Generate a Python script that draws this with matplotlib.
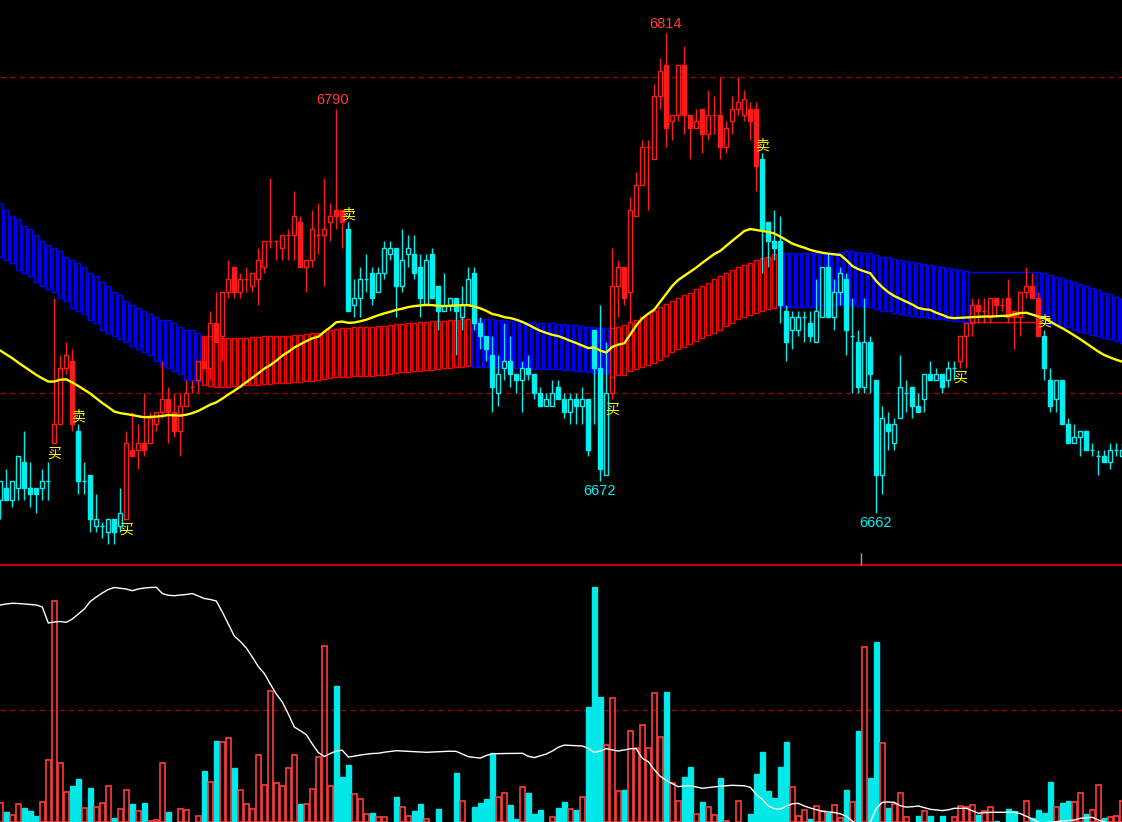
import matplotlib
matplotlib.use('Agg')
import matplotlib.pyplot as plt
from matplotlib.patches import Rectangle
import numpy as np

plt.rcParams['font.family'] = ['Noto Sans CJK SC', 'DejaVu Sans']

# ---- price bars (one per period) ----
opens = [6666, 6670, 6666, 6670, 6678, 6670, 6670, 6670, 6672, 6684,
         6690, 6708, 6710, 6688, 6672, 6674, 6658, 6658, 6656, 6660,
         6658, 6660, 6682, 6682, 6684, 6684, 6690, 6694, 6698, 6694,
         6688, 6696, 6702, 6704, 6710, 6708, 6722, 6718, 6732, 6740,
         6732, 6736, 6734, 6736, 6740, 6748, 6748, 6746, 6750, 6750,
         6754, 6740, 6742, 6750, 6750, 6754, 6758, 6758, 6752, 6728,
         6730, 6736, 6738, 6732, 6738, 6744, 6746, 6734, 6744, 6744,
         6740, 6728, 6744, 6734, 6726, 6728, 6730, 6724, 6728, 6738,
         6722, 6718, 6712, 6700, 6708, 6710, 6706, 6704, 6708, 6706,
         6700, 6696, 6696, 6702, 6698, 6694, 6698, 6696, 6698, 6720,
         6708, 6674, 6700, 6734, 6740, 6732, 6756, 6766, 6778, 6774,
         6794, 6804, 6786, 6788, 6804, 6788, 6784, 6790, 6782, 6788,
         6788, 6778, 6786, 6790, 6788, 6790, 6790, 6774, 6754, 6748,
         6748, 6726, 6720, 6720, 6724, 6722, 6716, 6724, 6740, 6724,
         6732, 6736, 6718, 6716, 6702, 6716, 6704, 6674, 6690, 6684,
         6692, 6700, 6702, 6696, 6698, 6706, 6704, 6706, 6704, 6708,
         6710, 6718, 6722, 6728, 6726, 6724, 6730, 6728, 6730, 6726,
         6724, 6732, 6734, 6730, 6718, 6704, 6698, 6704, 6690, 6684,
         6686, 6688, 6682, 6680, 6680, 6678, 6682, 6680]
highs = [6672, 6676, 6672, 6680, 6688, 6678, 6670, 6676, 6678, 6730,
         6712, 6716, 6714, 6690, 6678, 6674, 6668, 6659, 6660, 6660,
         6670, 6688, 6694, 6690, 6700, 6694, 6694, 6710, 6702, 6700,
         6700, 6704, 6704, 6710, 6718, 6726, 6732, 6732, 6742, 6740,
         6738, 6740, 6738, 6746, 6748, 6768, 6748, 6750, 6752, 6764,
         6756, 6742, 6758, 6760, 6768, 6760, 6790, 6758, 6754, 6736,
         6740, 6744, 6740, 6740, 6748, 6748, 6746, 6752, 6750, 6750,
         6744, 6744, 6746, 6734, 6738, 6730, 6730, 6734, 6740, 6740,
         6724, 6718, 6718, 6712, 6722, 6718, 6706, 6710, 6712, 6706,
         6702, 6700, 6704, 6704, 6700, 6700, 6700, 6702, 6698, 6720,
         6728, 6716, 6746, 6742, 6740, 6762, 6770, 6780, 6780, 6798,
         6806, 6814, 6788, 6804, 6810, 6788, 6790, 6790, 6796, 6794,
         6800, 6786, 6794, 6800, 6796, 6792, 6792, 6776, 6754, 6758,
         6756, 6728, 6726, 6726, 6726, 6726, 6736, 6740, 6744, 6736,
         6740, 6738, 6730, 6720, 6730, 6718, 6704, 6696, 6694, 6692,
         6712, 6704, 6702, 6700, 6706, 6710, 6708, 6706, 6710, 6710,
         6718, 6722, 6730, 6730, 6730, 6730, 6730, 6730, 6736, 6726,
         6732, 6740, 6738, 6732, 6720, 6708, 6704, 6704, 6692, 6690,
         6688, 6688, 6684, 6682, 6682, 6684, 6684, 6684]
lows = [6660, 6666, 6664, 6666, 6666, 6664, 6662, 6666, 6666, 6684,
        6690, 6706, 6688, 6668, 6668, 6656, 6656, 6654, 6652, 6652,
        6656, 6660, 6680, 6676, 6680, 6684, 6688, 6692, 6684, 6686,
        6680, 6696, 6700, 6700, 6708, 6704, 6716, 6710, 6730, 6730,
        6730, 6732, 6732, 6728, 6738, 6746, 6742, 6742, 6742, 6742,
        6740, 6732, 6740, 6744, 6734, 6748, 6752, 6746, 6726, 6724,
        6724, 6732, 6728, 6732, 6736, 6742, 6724, 6732, 6740, 6736,
        6724, 6728, 6730, 6720, 6726, 6726, 6712, 6720, 6728, 6720,
        6714, 6710, 6694, 6696, 6704, 6702, 6700, 6694, 6704, 6698,
        6696, 6696, 6696, 6698, 6692, 6690, 6690, 6690, 6680, 6690,
        6672, 6674, 6698, 6724, 6728, 6722, 6756, 6766, 6758, 6774,
        6790, 6778, 6780, 6786, 6782, 6774, 6784, 6776, 6780, 6782,
        6774, 6776, 6782, 6788, 6786, 6780, 6764, 6738, 6740, 6742,
        6722, 6710, 6714, 6718, 6716, 6716, 6716, 6724, 6724, 6720,
        6728, 6712, 6700, 6700, 6700, 6700, 6662, 6668, 6682, 6682,
        6692, 6694, 6692, 6694, 6694, 6704, 6704, 6700, 6702, 6704,
        6708, 6708, 6718, 6722, 6722, 6722, 6724, 6726, 6722, 6714,
        6718, 6730, 6730, 6718, 6704, 6694, 6694, 6690, 6684, 6684,
        6680, 6682, 6680, 6674, 6678, 6676, 6680, 6680]
closes = [6672, 6666, 6672, 6680, 6670, 6668, 6668, 6672, 6672, 6690,
          6708, 6712, 6690, 6672, 6672, 6660, 6660, 6658, 6660, 6656,
          6662, 6684, 6680, 6684, 6682, 6692, 6694, 6698, 6694, 6688,
          6696, 6700, 6702, 6710, 6708, 6722, 6716, 6732, 6736, 6732,
          6736, 6736, 6738, 6742, 6748, 6748, 6748, 6750, 6750, 6756,
          6740, 6742, 6752, 6750, 6752, 6756, 6756, 6754, 6726, 6730,
          6736, 6736, 6730, 6738, 6746, 6746, 6734, 6742, 6746, 6738,
          6730, 6742, 6730, 6726, 6728, 6730, 6726, 6728, 6736, 6722,
          6718, 6714, 6702, 6706, 6710, 6706, 6704, 6708, 6706, 6700,
          6696, 6698, 6700, 6698, 6694, 6698, 6696, 6698, 6682, 6708,
          6676, 6700, 6734, 6740, 6730, 6758, 6766, 6778, 6778, 6794,
          6802, 6784, 6788, 6804, 6788, 6784, 6786, 6782, 6788, 6788,
          6778, 6784, 6790, 6792, 6793, 6786, 6772, 6752, 6748, 6746,
          6728, 6716, 6724, 6724, 6724, 6718, 6726, 6740, 6724, 6732,
          6738, 6720, 6718, 6702, 6716, 6706, 6674, 6692, 6688, 6690,
          6702, 6700, 6696, 6694, 6706, 6704, 6706, 6702, 6708, 6708,
          6718, 6722, 6728, 6726, 6726, 6730, 6728, 6728, 6724, 6724,
          6732, 6734, 6730, 6718, 6708, 6696, 6704, 6690, 6684, 6686,
          6688, 6682, 6682, 6680, 6678, 6682, 6682, 6682]
# trend colour of the candles: c = cyan, r = red (run lengths)
candle_runs = [('c', 9), ('r', 4), ('c', 8), ('r', 37), ('c', 44),
               ('r', 25), ('c', 33), ('r', 14), ('c', 14)]

# ---- band (upper / lower edge) ----
band_top = [6760, 6758, 6756, 6755, 6753, 6752, 6750, 6748, 6747, 6746,
            6745, 6743, 6742, 6741, 6740, 6738, 6737, 6735, 6734, 6732,
            6731, 6729, 6728, 6727, 6726, 6725, 6724, 6723, 6723, 6722,
            6721, 6720, 6720, 6719,
            6718, 6718, 6717.5, 6717.5, 6717.5, 6717.5, 6717.5, 6717.5,
            6717.7, 6717.8, 6717.9, 6718, 6718, 6718.1, 6718.1, 6718.3,
            6718.5, 6718.7, 6718.9, 6719, 6719.4, 6719.8, 6720.2, 6720.5,
            6720.7, 6720.8, 6720.8, 6720.9, 6720.9, 6721.1, 6721.3, 6721.5,
            6721.7, 6721.9, 6722.1, 6722.2, 6722.4, 6722.5, 6722.7, 6722.8,
            6722.9, 6723, 6723.1, 6723.3, 6723.4,
            6723.6, 6723.5, 6723.4, 6723.3, 6723.2, 6723.0, 6722.9, 6722.8,
            6722.6, 6722.5, 6722.3, 6722.2, 6722.1, 6722.0, 6721.9, 6721.8,
            6721.6, 6721.4, 6721.2, 6721.0, 6720.8, 6720.6, 6720.5,
            6720.6, 6721.0, 6721.5, 6722.6, 6723.1, 6724.2, 6725.0, 6726.1,
            6727.1, 6728.2, 6729.2, 6730.0, 6731.0, 6731.8, 6732.8, 6734.0,
            6734.9, 6736.0, 6737.1, 6737.9, 6739.0, 6739.8, 6740.5,
            6741.1, 6742.1, 6742.6, 6743.2, 6743.9,
            6744.2, 6744.4, 6744.4, 6744.4, 6744.4, 6744.2, 6744.2, 6744.0,
            6744.4, 6744.4, 6744.6, 6744.9, 6744.8, 6744.5, 6744.4, 6744.2,
            6743.7, 6743.2, 6742.9, 6742.4, 6742.1, 6741.9, 6741.4, 6741.1,
            6740.9, 6740.5,
            6740.2, 6739.8, 6739.5, 6739.2, 6739.0, 6738.7,
            6738.4, 6738.4, 6738.4, 6738.4, 6738.4, 6738.4, 6738.4, 6738.4,
            6738.4, 6738.4, 6738.4,
            6738.2, 6737.9, 6737.4, 6736.8, 6736.3, 6735.8, 6735.0, 6734.5,
            6734.0, 6733.2, 6732.6, 6731.8, 6731.3, 6730.5, 6729.7]
band_bot = [6743, 6742, 6741, 6739, 6738, 6737, 6735, 6734, 6733, 6732,
            6730, 6729, 6727, 6726, 6725, 6723, 6722, 6720, 6719, 6718,
            6717, 6716, 6715, 6714, 6713, 6712, 6710, 6709, 6708, 6707,
            6706, 6704, 6704, 6703.5,
            6702.5, 6702.2, 6702.0, 6702.0, 6702.0, 6702.1, 6702.2, 6702.4,
            6702.5, 6702.6, 6702.7, 6702.8, 6703.0, 6703.1, 6703.2, 6703.4,
            6703.6, 6703.8, 6703.9, 6704.1, 6704.4, 6704.6, 6704.9, 6705.1,
            6705.2, 6705.3, 6705.3, 6705.4, 6705.4, 6705.6, 6705.8, 6706.1,
            6706.3, 6706.6, 6706.7, 6706.9, 6707.1, 6707.2, 6707.4, 6707.6,
            6707.8, 6707.9, 6708.1, 6708.3, 6708.5,
            6708.3, 6708.2, 6708.2, 6708.1, 6708.0, 6708.0, 6707.9, 6707.8,
            6707.8, 6707.7, 6707.7, 6707.6, 6707.6, 6707.5, 6707.5, 6707.4,
            6707.2, 6707.0, 6706.8, 6706.6, 6706.4, 6706.3, 6706.2,
            6705.2, 6705.7, 6705.7, 6706.8, 6707.5, 6708.3, 6708.9, 6709.6,
            6710.4, 6711.7, 6713.1, 6713.8, 6714.7, 6715.4, 6716.3, 6717.3,
            6718.4, 6719.1, 6720.0, 6721.2, 6722.3, 6723.3, 6724.2,
            6724.7, 6725.4, 6726.1, 6726.5, 6726.8,
            6727.3, 6727.3, 6727.3, 6727.3, 6727.3, 6727.3, 6727.5, 6727.7,
            6727.9, 6727.9, 6727.9, 6728.1, 6727.9, 6727.5, 6727.3, 6727.1,
            6726.5, 6726.1, 6725.8, 6725.2, 6724.9, 6724.7, 6724.4, 6724.2,
            6724.0, 6723.7,
            6723.5, 6723.3, 6723.1, 6722.9, 6722.7, 6722.6,
            6722.6, 6722.6, 6722.6, 6722.6, 6722.6, 6722.6, 6722.6, 6722.6,
            6722.6, 6722.6, 6722.6,
            6722.4, 6722.1, 6721.9, 6721.5, 6721.0, 6720.8, 6720.0, 6719.4,
            6718.9, 6718.4, 6718.0, 6717.5, 6717.0, 6716.6, 6715.9]
# b = falling (blue), r = rising (red), f = flat
band_runs = [('b', 34), ('r', 45), ('b', 23), ('r', 28), ('b', 32),
             ('f', 11), ('b', 15)]

# ---- yellow average ----
ma = [6713.4, 6712.2, 6711.0, 6709.6, 6708.3, 6707.0, 6705.7, 6704.6, 6703.6, 6703.6,
      6704.2, 6704.3, 6703.3, 6702.2, 6701.0, 6699.8, 6698.3, 6696.8, 6695.5, 6694.1,
      6693.6, 6693.3, 6693.0, 6692.6, 6692.3, 6692.4, 6692.5, 6692.7, 6693.0, 6692.9,
      6692.8, 6693.1, 6693.6, 6694.3, 6695.3, 6696.3, 6697.0, 6698.2, 6699.5, 6700.7,
      6702.0, 6703.4, 6704.8, 6706.2, 6707.7, 6708.8, 6710.2, 6711.8, 6713.0, 6714.4,
      6715.4, 6716.4, 6717.3, 6717.8, 6719.4, 6720.8, 6722.4, 6722.6, 6722.2, 6722.3,
      6722.7, 6723.2, 6723.9, 6724.6, 6725.2, 6725.7, 6726.3, 6726.7, 6727.2, 6727.5,
      6727.7, 6727.9, 6727.8, 6727.6, 6727.5, 6727.6, 6727.7, 6727.8, 6727.8, 6727.4,
      6726.8, 6726.0, 6725.0, 6724.6, 6724.0, 6723.7, 6723.2, 6722.5, 6721.6, 6720.6,
      6719.7, 6719.0, 6718.4, 6718.0, 6717.3, 6716.5, 6715.8, 6715.0, 6714.2, 6714.4,
      6713.4, 6712.8, 6714.6, 6715.3, 6715.7, 6718.5, 6721.4, 6723.6, 6725.1, 6726.4,
      6728.9, 6731.4, 6733.9, 6735.8, 6737.1, 6738.4, 6739.7, 6741.2, 6742.6, 6744.0,
      6745.0, 6746.6, 6748.2, 6749.7, 6751.3, 6751.9, 6751.6, 6751.3, 6751.0, 6750.5,
      6749.5, 6748.4, 6747.3, 6746.6, 6746.0, 6745.3, 6744.8, 6744.4, 6744.1, 6743.9,
      6743.7, 6742.1, 6740.2, 6739.2, 6738.5, 6737.9, 6735.4, 6733.5, 6731.9, 6730.7,
      6729.8, 6728.9, 6728.0, 6726.9, 6726.5, 6726.3, 6725.4, 6724.7, 6723.9, 6723.7,
      6723.8, 6723.9, 6724.0, 6724.1, 6724.2, 6724.2, 6724.3, 6724.4, 6724.4, 6724.9,
      6725.3, 6725.4, 6724.8, 6724.2, 6723.7, 6722.6, 6721.5, 6720.5, 6719.4, 6718.2,
      6717.0, 6715.7, 6714.4, 6713.1, 6712.0, 6711.2, 6710.5, 6709.9]

# ---- lower panel: volume and white line (panel units) ----
vol = [18.7, 9.7, 6.7, 17.7, 14, 11, 6, 19.7, 61.7, 220.7,
       58.7, 29.7, 36, 43, 13.7, 34, 14.7, 18.7, 35.7, 4,
       12.7, 31.7, 17.7, 10.7, 18.7, 0.7, 1.7, 58.7, 9.7, 0,
       12.7, 11.7, 0, 5.7, 51, 40, 81, 79.7, 83.7, 54,
       31.7, 17.7, 12.7, 66.7, 36.7, 130.7, 38.7, 35.7, 53.7, 66.7,
       17.7, 17.7, 32.7, 64.7, 175.7, 35.7, 136, 45, 57, 27.7,
       22.7, 7.7, 9, 4.7, 4.7, 0, 25, 14.7, 5.7, 11,
       18, 2.7, 0, 13, 0, 0, 49, 20.7, 0, 15,
       19, 23, 69, 24.7, 28.7, 17, 3, 34.7, 29, 8,
       12, 0, 4.7, 14, 20, 12.7, 12, 24.7, 115, 235,
       125, 76.7, 123.7, 30.7, 32, 90.7, 73.7, 96.7, 73.7, 128.7,
       84.7, 130, 38.7, 20.7, 45, 55, 7.7, 20, 14.7, 6.7,
       44, 0.7, 0, 20.7, 0, 8, 48, 70, 31, 24,
       55, 80, 34.7, 5.7, 11.7, 3, 15.7, 10.7, 8.7, 16.7,
       3.7, 32, 19.7, 90.7, 174.7, 44, 180, 78.7, 14, 17.7,
       28.7, 4.7, 0, 6, 10.7, 6, 0, 6, 0, 4.7,
       15.7, 14.7, 16.7, 6.7, 10.7, 14.7, 1, 0, 13, 11,
       0, 20.7, 3.7, 12, 9, 40, 14.7, 18.7, 21, 19.7,
       28.7, 8, 11.7, 36.7, 4, 4.7, 5.7, 20.7]
oi = [217, 218, 218.7, 218.5, 218, 217.5, 217, 215, 199, 200,
      200.5, 199.7, 203, 208, 213, 220.5, 225, 229, 232.5, 234.5,
      233.7, 233, 231.3, 233, 234, 234.5, 234.7, 228.5, 226.7, 226.3,
      227, 227.5, 228.5, 226, 223.5, 222.5, 221, 210, 198, 186,
      180.5, 174, 165, 155.5, 148.5, 138, 128, 120, 108, 95,
      91.3, 87.3, 78, 69.5, 65.5, 68.5, 71, 71.8, 65, 65.8,
      67, 67.7, 68.5, 68.7, 69.8, 70.6, 71.3, 71, 70.6, 70.3,
      70, 69.7, 70, 70.3, 70.6, 70.8, 70.6, 68, 65.3, 64.6,
      63.9, 66.5, 68.2, 68.4, 68.5, 68.6, 68.7, 68.7, 65.7, 64.4,
      66.2, 68, 71, 74.7, 76.9, 76.6, 76.3, 76, 73.7, 69.5,
      71, 73.4, 72, 71, 72, 73.3, 73.2, 63.7, 60.3, 52.3,
      45.7, 41.7, 38.3, 35.3, 36.1, 36.3, 35, 33.7, 34.4, 35.1,
      35.8, 36.3, 36.7, 36.5, 36.2, 34.7, 27.5, 22.6, 16, 13.3,
      12.7, 15.9, 18.2, 18.7, 16, 14, 12.3, 10.6, 10, 9.5,
      8.2, 5.7, 1, -3, -5, 0, 13.5, 19.7, 20, 19.6,
      16.3, 14.9, 15.3, 16, 14.4, 12.7, 12, 11.4, 12.2, 13.7,
      13.7, 13.7, 11.2, 8.8, 9.3, 9.7, 9.7, 9.7, 9.7, 9.7,
      8.4, 5.8, 3, 0, -3, -4, -4, -3, -1, 2,
      3.7, 4.3, 4.7, 2, 0, -2, -3, -3]

buy_idx = [9, 21, 102, 160]
sell_idx = [13, 58, 127, 174]
high_marks = [(56, '6790', -4), (111, '6814', -1)]
low_marks = [(100, '6672', -1), (146, '6662', -1)]
grid_prices = [6800, 6700]
vol_grid = 112

RED = '#ff1a1a'
CYAN = '#00f0f0'
BLUE = '#0000ff'
DASH = '#9a0000'


def expand(runs):
    out = []
    for k, cnt in runs:
        out += [k] * cnt
    return out


n = len(closes)
x = np.arange(n)
ccol = expand(candle_runs)
bcol = expand(band_runs)

fig = plt.figure(figsize=(11.22, 8.22), dpi=100, facecolor='black')
ax = fig.add_axes([0, 257 / 822, 1, 565 / 822], facecolor='black')
axv = fig.add_axes([0, 0, 1, 257 / 822], facecolor='black')
for a in (ax, axv):
    a.set_xlim(-0.05, 186.95)
    a.set_xticks([])
    a.set_yticks([])
    for s in a.spines.values():
        s.set_visible(False)
ax.set_ylim(6645.5, 6824.45)
axv.set_ylim(0, 257)

# grid lines
for g in grid_prices:
    ax.axhline(g, color=DASH, lw=1, ls=(0, (4, 3)), zorder=1)
axv.axhline(vol_grid, color=DASH, lw=1, ls=(0, (4, 3)), zorder=1)

# band
bw = 0.68
for i in range(n):
    t, b = band_top[i], band_bot[i]
    if bcol[i] == 'f':
        ax.hlines(t, i - 0.5, i + 0.5, color=BLUE, lw=1, zorder=2)
        ax.hlines(b, i - 0.5, i + 0.5, color='#ff0000', lw=1, zorder=2)
        continue
    ec = BLUE if bcol[i] == 'b' else '#ff0000'
    ax.add_patch(Rectangle((i - bw / 2, b), bw, t - b, fill=False,
                           edgecolor=ec, lw=1, zorder=2))

# candles
cw = 0.72
for i in range(n):
    o, h, l, c = opens[i], highs[i], lows[i], closes[i]
    col = RED if ccol[i] == 'r' else CYAN
    top, bot = max(o, c), min(o, c)
    ax.vlines(i, top, h, color=col, lw=1, zorder=4)
    ax.vlines(i, l, bot, color=col, lw=1, zorder=4)
    if c > o:
        ax.add_patch(Rectangle((i - cw / 2, bot), cw, top - bot, fill=False,
                               edgecolor=col, lw=1, zorder=4))
    elif c < o:
        ax.add_patch(Rectangle((i - cw / 2, bot), cw, top - bot,
                               facecolor=col, edgecolor=col, lw=1, zorder=4))
    else:
        ax.hlines(o, i - cw / 2, i + cw / 2, color=col, lw=1, zorder=4)

# moving average
ax.plot(x, ma, color='#ffff00', lw=1.7, zorder=5)

# buy / sell signals
for i in buy_idx:
    ax.annotate('买', (i, lows[i]), xytext=(0, -3), textcoords='offset pixels',
                ha='center', va='top', color='#ffff00', fontsize=10, zorder=6)
for i in sell_idx:
    ax.annotate('卖', (i, highs[i]), xytext=(0, 1), textcoords='offset pixels',
                ha='center', va='bottom', color='#ffff00', fontsize=10, zorder=6)

# extreme prices
for i, txt, dx in high_marks:
    ax.annotate(txt, (i, highs[i]), xytext=(dx, 2), textcoords='offset pixels',
                ha='center', va='bottom', color='#ff3c3c', fontsize=10.5,
                family='Liberation Sans', zorder=6)
for i, txt, dx in low_marks:
    ax.annotate(txt, (i, lows[i]), xytext=(dx, -3), textcoords='offset pixels',
                ha='center', va='top', color=CYAN, fontsize=10.5,
                family='Liberation Sans', zorder=6)

# volume
vw = 0.78
for i in range(n):
    if vol[i] <= 0:
        continue
    if closes[i] >= opens[i]:
        axv.add_patch(Rectangle((i - vw / 2, 0), vw, vol[i], fill=False,
                                edgecolor='#ff3c3c', lw=1.2, zorder=3))
    else:
        axv.add_patch(Rectangle((i - vw / 2, 0), vw, vol[i],
                                facecolor='#00e8e8', edgecolor='#00e8e8',
                                lw=1, zorder=3))
axv.plot(x, oi, color='white', lw=1, zorder=4)

# panel separator and cursor tick
axv.axhline(257, color='#d00000', lw=1.5, clip_on=False, zorder=6)
axv.vlines(143.45, 257, 269, color='#a0a0a0', lw=1, clip_on=False, zorder=6)

fig.savefig('out.png', dpi=100, facecolor='black')
